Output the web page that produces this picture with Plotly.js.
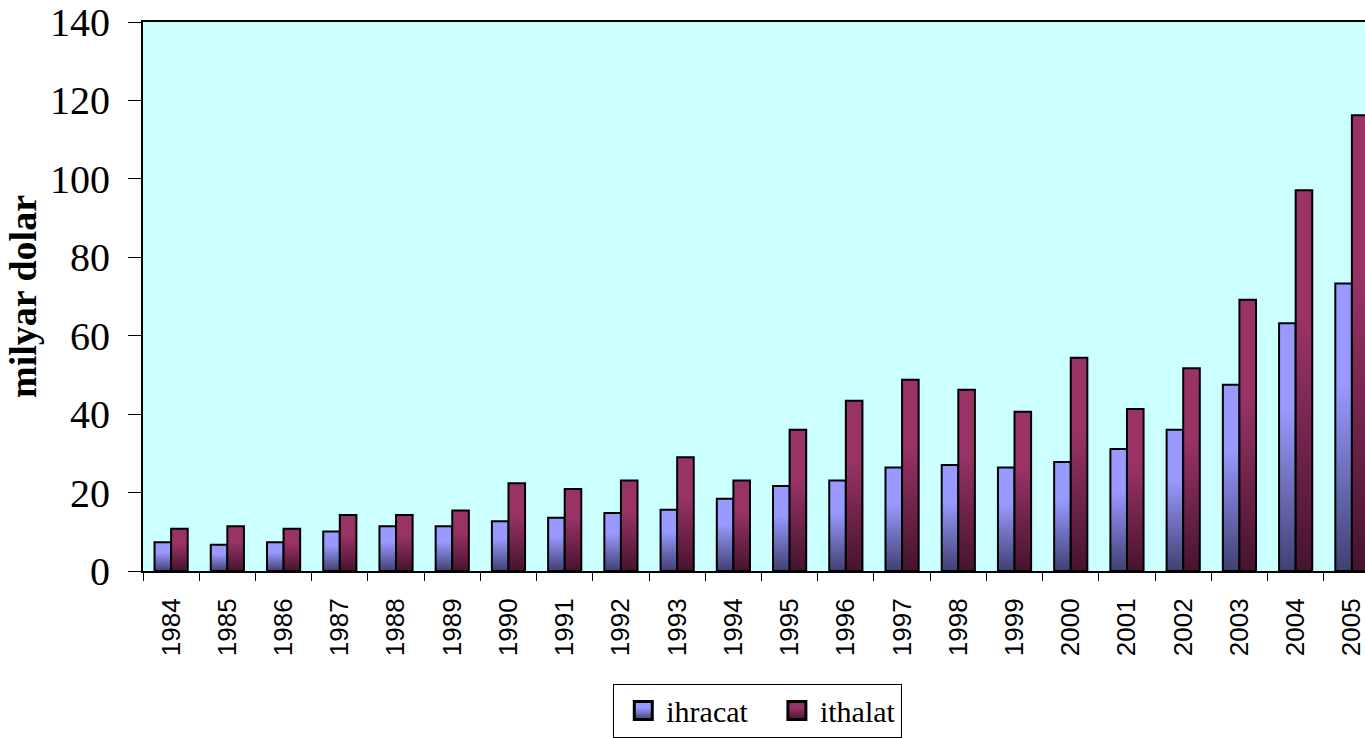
<!DOCTYPE html>
<html>
<head>
<meta charset="utf-8">
<script src="https://cdn.plot.ly/plotly-3.0.1.min.js"></script>
<style>
  html, body { margin: 0; padding: 0; overflow: hidden; background: #fff; }
  #chart { width: 1380px; height: 738px; }
</style>
</head>
<body>
<div id="chart"></div>
<script>
const yillar = ["1984", "1985", "1986", "1987", "1988", "1989", "1990", "1991", "1992", "1993", "1994",
  "1995", "1996", "1997", "1998", "1999", "2000", "2001", "2002", "2003", "2004", "2005"];
const ihracat = [7.3, 6.7, 7.3, 10.1, 11.4, 11.4, 12.7, 13.6, 14.8, 15.6, 18.4,
  21.7, 23.1, 26.4, 27.0, 26.4, 27.8, 31.1, 36.0, 47.5, 63.2, 73.3];
const ithalat = [10.8, 11.4, 10.8, 14.3, 14.3, 15.4, 22.4, 20.9, 23.1, 29.0, 23.1,
  36.0, 43.4, 48.8, 46.2, 40.6, 54.4, 41.3, 51.7, 69.2, 97.1, 116.2];
const yTikler = [0, 20, 40, 60, 80, 100, 120, 140];

const serif = "Liberation Serif";
const sans = "Liberation Sans";

const traces = [
  {
    // two no-break spaces widen the first legend entry like in the original
    name: "ihracat\u00a0\u00a0", x: yillar, y: ihracat, type: "bar",
    marker: { color: "#9999ff", line: { color: "#000", width: 2 } },
  },
  {
    name: "ithalat", x: yillar, y: ithalat, type: "bar",
    marker: { color: "#993366", line: { color: "#000", width: 2 } },
  },
];

const layout = {
  width: 1380, height: 738,
  margin: { l: 143, r: 0, t: 22, b: 167 },
  paper_bgcolor: "#fff",
  plot_bgcolor: "#ccffff",
  barmode: "group",
  bargap: 0.41,
  bargroupgap: 0,
  showlegend: true,
  legend: {
    orientation: "h", x: 0.497, xanchor: "center", y: -0.205, yanchor: "top",
    font: { family: serif, size: 30, color: "#000" },
    bordercolor: "#000", borderwidth: 1, bgcolor: "#fff",
    itemwidth: 42,
  },
  xaxis: {
    type: "category",
    tickson: "boundaries",
    ticks: "outside", ticklen: 8, tickcolor: "#000", tickwidth: 1,
    tickangle: -90,
    ticklabelstandoff: 15,
    tickfont: { family: sans, size: 26, color: "#000" },
    showline: true, linecolor: "#000", linewidth: 2, mirror: true,
    showgrid: false, fixedrange: true,
  },
  yaxis: {
    range: [0, 140], tickmode: "array", tickvals: yTikler,
    ticks: "outside", ticklen: 13, tickcolor: "#000", tickwidth: 1,
    ticklabelstandoff: 10,
    ticklabeloverflow: "allow",
    tickfont: { family: serif, size: 40, color: "#000" },
    showline: true, linecolor: "#000", linewidth: 2, mirror: true,
    showgrid: false, zeroline: false, fixedrange: true,
    title: { text: "<b>milyar dolar</b>", font: { family: serif, size: 38, color: "#000" }, standoff: 2 },
  },
};

function gradyan(defs, id, ust, alt) {
  const ns = "http://www.w3.org/2000/svg";
  const g = document.createElementNS(ns, "linearGradient");
  g.setAttribute("id", id);
  g.setAttribute("x1", "0"); g.setAttribute("y1", "0");
  g.setAttribute("x2", "0"); g.setAttribute("y2", "1");
  [[0, ust], [0.35, ust], [1, alt]].forEach(([o, c]) => {
    const s = document.createElementNS(ns, "stop");
    s.setAttribute("offset", o);
    s.setAttribute("stop-color", c);
    g.appendChild(s);
  });
  defs.appendChild(g);
}

Plotly.newPlot("chart", traces, layout, { displayModeBar: false, staticPlot: true }).then((gd) => {
  const svg = gd.querySelector("svg.main-svg");
  const defs = svg.querySelector("defs");
  gradyan(defs, "grad-ih", "#9999ff", "#404072");
  gradyan(defs, "grad-it", "#993366", "#45142e");
  const ids = ["grad-ih", "grad-it"];
  gd.querySelectorAll(".barlayer .trace").forEach((t, i) => {
    t.querySelectorAll("path").forEach((p) => { p.style.fill = `url(#${ids[i]})`; });
  });
  // legend squares a bit bigger, as in the original
  gd.querySelectorAll(".legend .traces").forEach((t, i) => {
    t.querySelectorAll(".legendpoints path").forEach((p) => {
      p.style.fill = `url(#${ids[i]})`;
      p.setAttribute("transform", "translate(29,0) scale(1.5)");
    });
  });
});
</script>
</body>
</html>
